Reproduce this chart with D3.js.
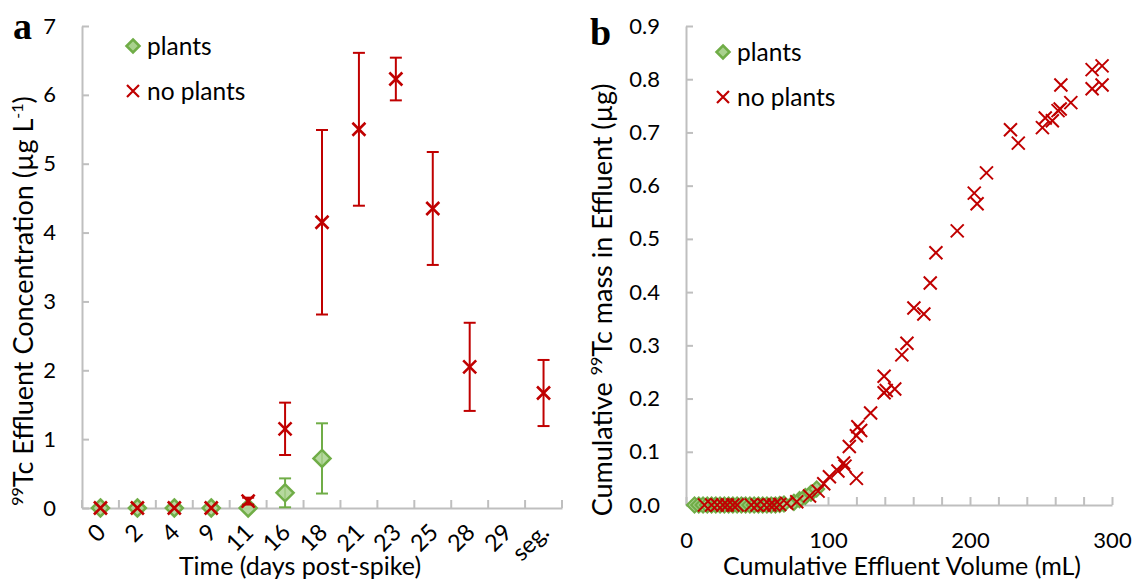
<!DOCTYPE html>
<html>
<head>
<meta charset="utf-8">
<script src="https://cdn.jsdelivr.net/npm/d3@7"></script>
<style>
  html, body { margin: 0; padding: 0; background: #fff; }
  svg { display: block; font-family: Lato, "Open Sans", sans-serif; }
</style>
</head>
<body>
<svg id="fig" width="1141" height="579"></svg>
<script>
// ---- Panel a: effluent concentration by sampling day ----
const timeLabels = ["0", "2", "4", "9", "11", "16", "18", "21", "23", "25", "28", "29", "seg."];

const plantsDays = ["0", "2", "4", "9", "11", "16", "18"];
const plantsConc = [0, 0, 0, 0, 0, 0.22, 0.72];
const plantsErr  = [0, 0, 0, 0, 0, 0.21, 0.51];

const noPlantsDays = ["0", "2", "4", "9", "11", "16", "18", "21", "23", "25", "28", "seg."];
const noPlantsConc = [0, 0, 0, 0, 0.10, 1.15, 4.15, 5.50, 6.23, 4.35, 2.05, 1.67];
const noPlantsErr  = [0, 0, 0, 0, 0.05, 0.38, 1.34, 1.11, 0.31, 0.82, 0.64, 0.48];

const concTicks = [0, 1, 2, 3, 4, 5, 6, 7];

// ---- Panel b: cumulative mass vs cumulative volume ----
const plantsVol  = [6, 9, 12, 15, 18, 21, 24, 27, 30, 33, 36, 39, 42, 45, 48, 51, 54, 57, 60, 63, 66, 69, 76, 80, 84, 88, 92];
const plantsMass = [0, 0, 0, 0, 0, 0, 0, 0, 0, 0, 0, 0, 0, 0, 0, 0, 0, 0, 0, 0, 0.001, 0.002, 0.005, 0.010, 0.016, 0.022, 0.030];

const noPlantsVol  = [13, 18, 22, 26, 29, 33, 36, 46, 50, 55, 59, 62, 66, 71, 78, 87, 93, 97, 101, 107, 111, 112, 120, 115, 120, 121, 123, 130, 139.5, 141, 147, 139.5, 152, 155.6, 160.5, 167.5, 172, 176, 191, 203, 205, 211.6, 228.5, 234, 251, 253, 258, 262, 263.5, 264, 271, 286, 286, 293, 293];
const noPlantsMass = [0, 0, 0, 0, 0, 0, 0, 0, 0, 0, 0, 0, 0.001, 0.003, 0.006, 0.017, 0.026, 0.040, 0.053, 0.064, 0.079, 0.073, 0.050, 0.110, 0.130, 0.147, 0.140, 0.173, 0.211, 0.215, 0.218, 0.242, 0.282, 0.304, 0.370, 0.359, 0.417, 0.474, 0.515, 0.586, 0.566, 0.624, 0.705, 0.680, 0.709, 0.727, 0.722, 0.741, 0.744, 0.789, 0.756, 0.782, 0.818, 0.789, 0.825];

const volTicks      = [0, 20, 40, 60, 80, 100, 120, 140, 160, 180, 200, 220, 240, 260, 280, 300];
const volTickLabels = [0, 100, 200, 300];
const massTicks = [0, 0.1, 0.2, 0.3, 0.4, 0.5, 0.6, 0.7, 0.8, 0.9];

// ---- styles ----
const AXIS = "#bfbfbf";
const RED = "#c00000";
const GREEN = "#70ad47";
const GREEN_FILL = "#a9d18e";
const TICK_FONT = "22px";
const TITLE_FONT = "25px";
const YTITLE_FONT = "27px";

const svg = d3.select("#fig");

function diamond(g, x, y, r, sw, op) {
  g.append("path")
    .attr("d", `M${x},${y - r}L${x + r},${y}L${x},${y + r}L${x - r},${y}Z`)
    .attr("fill", GREEN_FILL)
    .attr("fill-opacity", op == null ? 1 : op)
    .attr("stroke", GREEN)
    .attr("stroke-width", sw);
}
function cross(g, x, y, r, sw) {
  g.append("path")
    .attr("d", `M${x - r},${y - r}L${x + r},${y + r}M${x - r},${y + r}L${x + r},${y - r}`)
    .attr("stroke", RED)
    .attr("stroke-width", sw)
    .attr("fill", "none");
}
function styleAxis(sel) {
  sel.select(".domain").attr("stroke", AXIS).attr("stroke-width", 2);
  sel.selectAll(".tick line").attr("stroke", AXIS).attr("stroke-width", 2);
  sel.selectAll(".tick text").attr("fill", "#000").style("font-size", TICK_FONT)
    .style("font-family", "Lato, 'Open Sans', sans-serif");
}
function legend(g, x, y) {
  diamond(g, x, y, 6.5, 2.5);
  g.append("text").attr("x", x + 14).attr("y", y).attr("dy", "0.35em")
    .style("font-size", "24.5px").text("plants");
  cross(g, x, y + 45, 6, 2.2);
  g.append("text").attr("x", x + 14).attr("y", y + 45).attr("dy", "0.35em")
    .style("font-size", "24.5px").text("no plants");
}
function errorBar(g, cx, lo, hi, color) {
  const cap = 6;
  g.append("line").attr("x1", cx).attr("x2", cx).attr("y1", lo).attr("y2", hi).attr("stroke", color).attr("stroke-width", 2);
  g.append("line").attr("x1", cx - cap).attr("x2", cx + cap).attr("y1", lo).attr("y2", lo).attr("stroke", color).attr("stroke-width", 2);
  g.append("line").attr("x1", cx - cap).attr("x2", cx + cap).attr("y1", hi).attr("y2", hi).attr("stroke", color).attr("stroke-width", 2);
}

// =============== Panel a ===============
const A = { left: 82, right: 562, top: 26, bottom: 508 };
const xA = d3.scaleBand().domain(timeLabels).range([A.left, A.right]).padding(0);
const yA = d3.scaleLinear().domain([0, 7]).range([A.bottom, A.top]);
const gA = svg.append("g");

const yAxisA = gA.append("g").attr("transform", `translate(${A.left},0)`)
  .call(d3.axisLeft(yA).tickValues(concTicks).tickFormat(d3.format("d"))
    .tickSizeInner(-7).tickSizeOuter(0).tickPadding(26));
styleAxis(yAxisA);

const xAxisA = gA.append("g").attr("transform", `translate(0,${A.bottom})`)
  .call(d3.axisBottom(xA).tickSize(0).tickFormat(""));
styleAxis(xAxisA);
xAxisA.selectAll(".tick").remove();

// category boundary ticks, pointing up into the plot
const bounds = timeLabels.map(d => xA(d)).concat([A.right]);
gA.selectAll("line.bound").data(bounds).enter().append("line")
  .attr("x1", d => d).attr("x2", d => d)
  .attr("y1", A.bottom).attr("y2", A.bottom - 8)
  .attr("stroke", AXIS).attr("stroke-width", 2);

// rotated day labels
gA.selectAll("text.day").data(timeLabels).enter().append("text")
  .attr("text-anchor", "end")
  .attr("transform", d => `translate(${xA(d) + xA.bandwidth() / 2 - 5},${A.bottom + 14}) rotate(-45)`)
  .attr("dy", "0.71em")
  .style("font-size", "23.5px")
  .text(d => d);

// plants: error bars then diamonds
plantsDays.forEach((d, i) => {
  const cx = xA(d) + xA.bandwidth() / 2;
  if (plantsErr[i] > 0) {
    errorBar(gA, cx, yA(Math.max(0, plantsConc[i] - plantsErr[i])), yA(plantsConc[i] + plantsErr[i]), GREEN);
  }
  diamond(gA, cx, yA(plantsConc[i]), 8.5, 2.5, 0.85);
});

// no plants: error bars then crosses
noPlantsDays.forEach((d, i) => {
  const cx = xA(d) + xA.bandwidth() / 2;
  if (noPlantsErr[i] > 0) {
    errorBar(gA, cx, yA(noPlantsConc[i] - noPlantsErr[i]), yA(noPlantsConc[i] + noPlantsErr[i]), RED);
  }
  cross(gA, cx, yA(noPlantsConc[i]), 6.5, 2.6);
});

// titles
gA.append("text").attr("x", 300).attr("y", 575)
  .attr("text-anchor", "middle").style("font-size", TITLE_FONT).text("Time (days post-spike)");

const yTitleA = gA.append("text").attr("text-anchor", "middle")
  .attr("transform", `translate(33,301) rotate(-90)`).style("font-size", YTITLE_FONT);
yTitleA.append("tspan").style("font-size", "16px").attr("dy", "-10").text("99");
yTitleA.append("tspan").attr("dy", "10").text("Tc Effluent Concentration (µg L");
yTitleA.append("tspan").style("font-size", "16px").attr("dy", "-10").text("-1");
yTitleA.append("tspan").attr("dy", "10").text(")");

gA.append("text").attr("x", 13).attr("y", 39)
  .style("font-family", "'Liberation Serif', 'DejaVu Serif', serif")
  .style("font-weight", "bold").style("font-size", "38px").text("a");

legend(gA, 133, 46);

// =============== Panel b ===============
const B = { left: 686, right: 1112, top: 26, bottom: 505 };
const xB = d3.scaleLinear().domain([0, 300]).range([B.left, B.right]);
const yB = d3.scaleLinear().domain([0, 0.9]).range([B.bottom, B.top]);
const gB = svg.append("g");

const yAxisB = gB.append("g").attr("transform", `translate(${B.left},0)`)
  .call(d3.axisLeft(yB).tickValues(massTicks).tickFormat(d3.format(".1f"))
    .tickSizeInner(-7).tickSizeOuter(0).tickPadding(26));
styleAxis(yAxisB);

const xAxisB = gB.append("g").attr("transform", `translate(0,${B.bottom})`)
  .call(d3.axisBottom(xB).tickValues(volTicks)
    .tickFormat(d => volTickLabels.includes(d) ? d3.format("d")(d) : "")
    .tickSizeInner(-8).tickSizeOuter(0).tickPadding(27));
styleAxis(xAxisB);

const ptsB = gB.append("g");
plantsVol.forEach((v, i) => diamond(ptsB, xB(v), yB(plantsMass[i]), 7.5, 2.2));
noPlantsVol.forEach((v, i) => cross(ptsB, xB(v), yB(noPlantsMass[i]), 6.5, 2));

gB.append("text").attr("x", 902).attr("y", 575)
  .attr("text-anchor", "middle").style("font-size", TITLE_FONT).text("Cumulative Effluent Volume (mL)");

const yTitleB = gB.append("text").attr("text-anchor", "middle")
  .attr("transform", `translate(612,300) rotate(-90)`).style("font-size", YTITLE_FONT);
yTitleB.append("tspan").text("Cumulative ");
yTitleB.append("tspan").style("font-size", "16px").attr("dy", "-10").text("99");
yTitleB.append("tspan").attr("dy", "10").text("Tc mass in Effluent (µg)");

gB.append("text").attr("x", 590).attr("y", 45)
  .style("font-family", "'Liberation Serif', 'DejaVu Serif', serif")
  .style("font-weight", "bold").style("font-size", "38px").text("b");

legend(gB, 723, 52);
</script>
</body>
</html>
